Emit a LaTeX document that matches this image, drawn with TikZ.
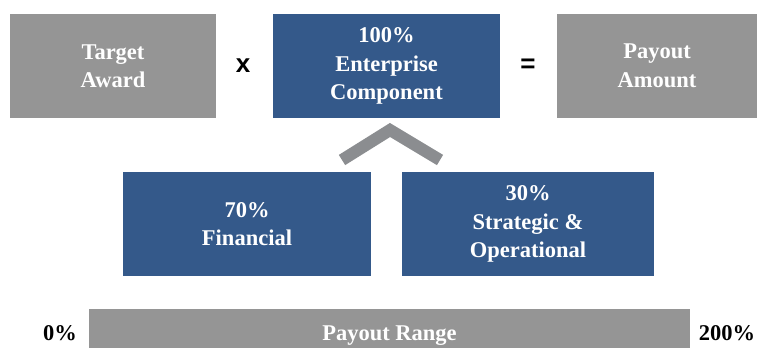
\documentclass[tikz,border=0pt]{standalone}
\usepackage{fontspec}
\setmainfont{Liberation Serif}
\setsansfont{Liberation Sans}
\definecolor{boxgray}{HTML}{959595}
\definecolor{boxblue}{HTML}{34598A}
\definecolor{chevgray}{HTML}{8B8D90}
\tikzset{
  box/.style={rectangle, inner sep=0pt, align=center, text=white,
    font=\fontsize{22.5}{28.5}\selectfont\bfseries, minimum height=104pt},
  graybox/.style={box, fill=boxgray},
  bluebox/.style={box, fill=boxblue},
  opsym/.style={inner sep=0pt, font=\fontsize{26}{26}\selectfont\sffamily\bfseries},
  pct/.style={inner sep=0pt, font=\fontsize{22.5}{24}\selectfont\bfseries}
}
\begin{document}
\begin{tikzpicture}[x=1pt,y=-1pt]
\useasboundingbox (0,0) rectangle (757,349);
\node[graybox, minimum width=206pt] (target) at (113,66) {Target\\Award};
\node[opsym] (times) at (243,66) {x};
\node[bluebox, minimum width=227pt] (ent) at (386.5,66) {100\%\\Enterprise\\Component};
\node[opsym] (eq) at (528,66) {=};
\node[graybox, minimum width=200pt] (payout) at (657,66) {Payout\\Amount};
\node[bluebox, minimum width=248pt] (fin) at (247,224) {70\%\\Financial};
\node[bluebox, minimum width=252pt] (strat) at (528,224) {30\%\\Strategic \&\\Operational};
\node[graybox, minimum width=601pt, minimum height=39pt] (range) at (389.5,328.5) {\smash{\raisebox{-11.5pt}{Payout Range}}};
\node[pct] (zero) at (60,333) {0\%};
\node[pct] (twohundred) at (727,333) {200\%};
\coordinate (chl) at (342,160);
\coordinate (cht) at (390,130);
\coordinate (chr) at (440,160);
\draw[chevgray, line width=12pt, line join=miter] (chl) -- (cht) -- (chr);
\end{tikzpicture}
\end{document}
